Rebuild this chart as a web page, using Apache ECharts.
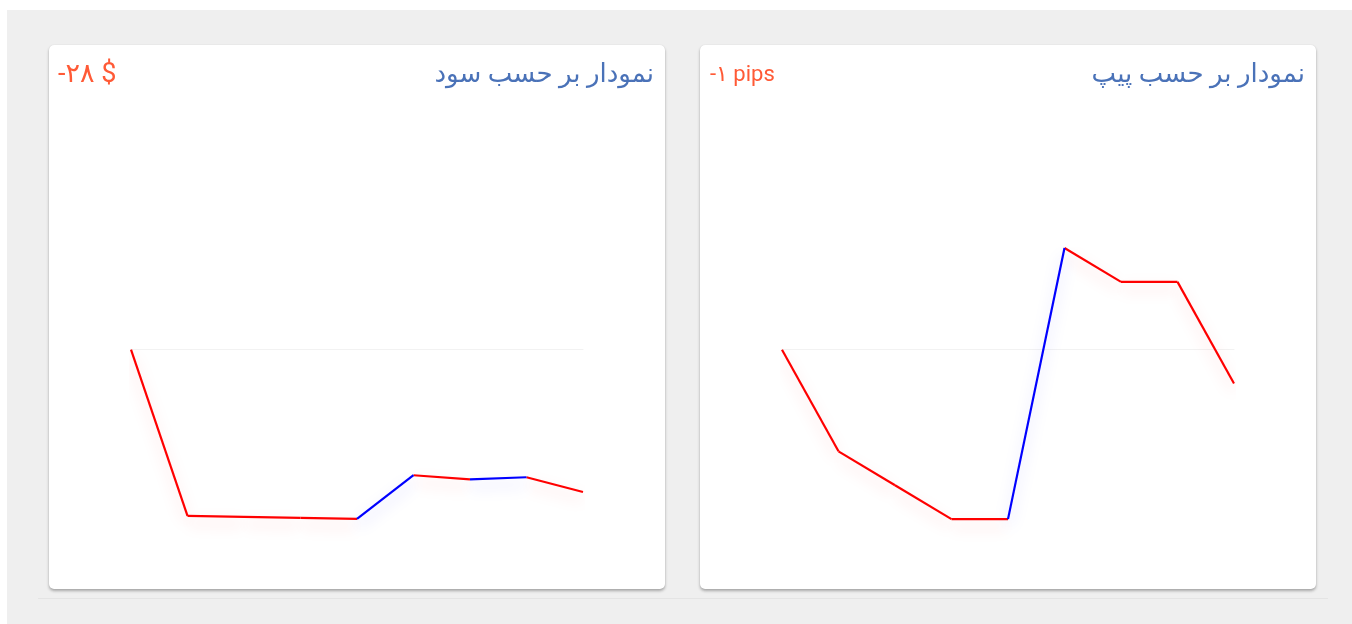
<!DOCTYPE html>
<html>
<head>
<meta charset="utf-8">
<script src="https://cdn.jsdelivr.net/npm/echarts@6/dist/echarts.min.js"></script>
<style>
  html, body { margin: 0; padding: 0; background: #ffffff; width: 1352px; height: 624px; overflow: hidden; }
  #page { position: absolute; left: 7px; top: 10px; width: 1345px; height: 614px; background: #efefef; }
  .card { position: absolute; top: 45px; width: 616px; height: 544px; background: #ffffff; border-radius: 5px;
          box-shadow: 0 2px 3px rgba(0,0,0,0.3), 0 0 1px rgba(0,0,0,0.12); }
  #card1 { left: 49px; }
  #card2 { left: 700px; }
  .chart { width: 616px; height: 544px; }
  #rule { position: absolute; left: 38px; top: 598px; width: 1290px; height: 1px; background: #e4e4e4; }
</style>
</head>
<body>
<div id="page"></div>
<div id="rule"></div>
<div class="card" id="card1"><div class="chart" id="chart1"></div></div>
<div class="card" id="card2"><div class="chart" id="chart2"></div></div>
<script>
// ---- data ----
const trades = ['1', '2', '3', '4', '5', '6', '7', '8', '9'];
const profitValues = [0, -32.7, -32.9, -33.1, -33.3, -24.7, -25.5, -25.1, -28];
const pipValues = [0, -3, -4, -5, -5, 3, 2, 2, -1];
const profitTitle = 'نمودار بر حسب سود';
const profitTotal = '-۲۸ $';
const pipTitle = 'نمودار بر حسب پیپ';
const pipTotal = '-۱ pips';
const profitRange = [-40, 20];
const pipRange = [-6, 3];

const UP = '#0000ff', DOWN = '#ff0000';
const UP_SH = 'rgba(0,0,255,0.22)', DOWN_SH = 'rgba(255,0,0,0.22)';

function segmentSeries(values) {
  const out = [];
  for (let i = 0; i < values.length - 1; i++) {
    const d = values.map(() => null);
    d[i] = values[i];
    d[i + 1] = values[i + 1];
    const up = values[i + 1] > values[i];
    out.push({
      type: 'line',
      data: d,
      showSymbol: false,
      symbol: 'none',
      connectNulls: false,
      silent: true,
      z: up ? 3 : 2,
      lineStyle: {
        color: up ? UP : DOWN,
        width: 2.2,
        shadowColor: up ? UP_SH : DOWN_SH,
        shadowBlur: 15,
        shadowOffsetY: 7
      }
    });
  }
  return out;
}

function buildOption(title, total, totalSize, totalLeft, totalTop, values, range) {
  return {
    animation: false,
    title: [
      { text: title, right: 6, top: 12,
        textStyle: { fontSize: 26, fontWeight: 'normal', color: '#4a72b8', fontFamily: 'Roboto, "DejaVu Sans", sans-serif' } },
      { text: total, left: totalLeft, top: totalTop,
        textStyle: { fontSize: totalSize, fontWeight: 'normal', color: '#ff5a36', fontFamily: 'Roboto, "DejaVu Sans", sans-serif' } }
    ],
    grid: { left: 82, right: 82, top: 203, bottom: 36 },
    xAxis: {
      type: 'category',
      data: trades,
      boundaryGap: false,
      axisLine: { show: true, onZero: true, lineStyle: { color: '#f2f2f2', width: 1 } },
      axisTick: { show: false },
      axisLabel: { show: false },
      splitLine: { show: false }
    },
    yAxis: {
      type: 'value',
      min: range[0],
      max: range[1],
      axisLine: { show: false },
      axisTick: { show: false },
      axisLabel: { show: false },
      splitLine: { show: false }
    },
    series: segmentSeries(values)
  };
}

const c1 = echarts.init(document.getElementById('chart1'));
c1.setOption(buildOption(profitTitle, profitTotal, 27, 4, 12, profitValues, profitRange));
const c2 = echarts.init(document.getElementById('chart2'));
c2.setOption(buildOption(pipTitle, pipTotal, 22, 5, 14, pipValues, pipRange));
</script>
</body>
</html>
